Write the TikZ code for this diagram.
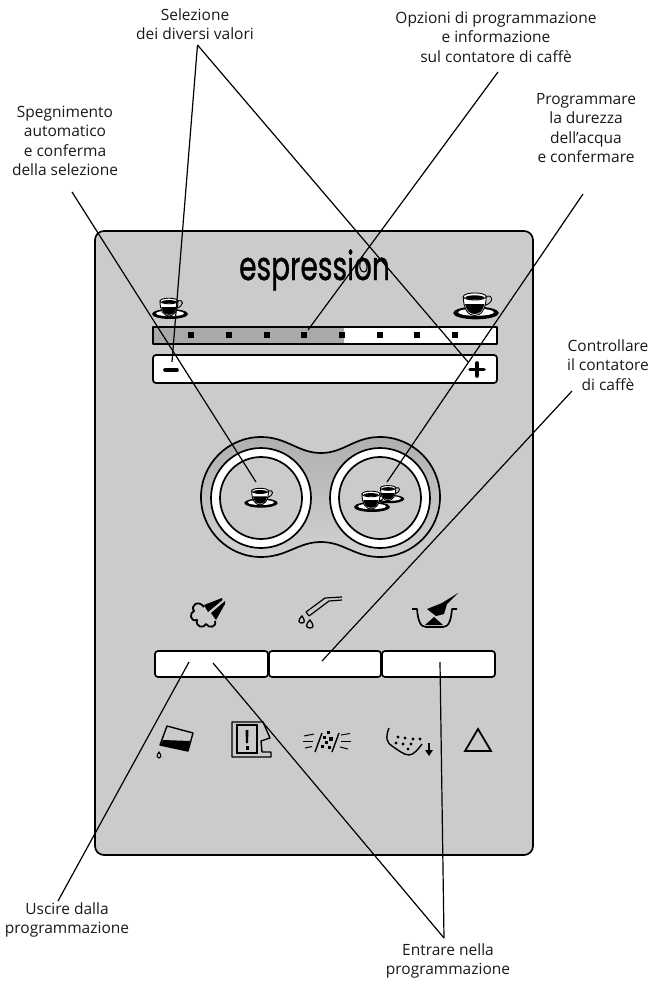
\documentclass[tikz,border=0pt]{standalone}
\usepackage{fontspec}
\usepackage{graphicx}
\setmainfont{Open Sans}
\newfontfamily\logofont[FakeBold=1.2]{Poppins}
\definecolor{panelgray}{HTML}{CBCBCB}
\definecolor{bargray}{HTML}{A9A9A9}
\definecolor{knobdark}{HTML}{AFAFAF}
\definecolor{knoblight}{HTML}{D2D2D2}
\tikzset{
  lbl/.style={font=\fontsize{15.5}{19.5}\selectfont,align=center,inner sep=0pt,text=black!90},
  leader/.style={line width=1.2pt},
  outline/.style={line width=1.7pt,line join=round},
  tick/.style={fill=black,minimum size=5.5pt,inner sep=0pt},
  cup/.pic={
    \fill[black] (0,0) ellipse [x radius=18,y radius=5];
    \fill[white] (0,-0.6) ellipse [x radius=14,y radius=2.8];
    \draw[line width=0.9pt] (8,-13) .. controls (14,-15) and (14,-8) .. (7,-6);
    \draw[fill=white,line width=0.9pt] (-10,-13) .. controls (-10,-3) and (-6,2) .. (-1,2) .. controls (4,2) and (8,-3) .. (8,-13) -- cycle;
    \fill[black] (-8.6,-7) -- (6.6,-7) .. controls (5.5,-2) and (3,0.8) .. (-1,0.8) .. controls (-5,0.8) and (-7.6,-2) .. (-8.6,-7) -- cycle;
    \draw[fill=white,line width=0.9pt] (-1,-13) ellipse [x radius=9,y radius=2.8];
    \fill[black] (-1,-12.2) ellipse [x radius=7.4,y radius=1.7];
  }
}
\begin{document}
\begin{tikzpicture}[x=1pt,y=-1pt]
\useasboundingbox (0,0) rectangle (651,984);

% panel
\draw[outline,fill=panelgray,rounded corners=9pt] (95,231) rectangle (533,855);

% logo
\node[inner sep=0pt,anchor=base] (logo) at (314.5,280) {\scalebox{0.70}[1]{\logofont\fontsize{40}{40}\selectfont espression}};
\fill[panelgray] (362,263) .. controls (359,268) and (361,272) .. (364,272) .. controls (367,272) and (368,267) .. (362,263) -- cycle;
\draw[line width=1.1pt] (362,257) .. controls (358,266) and (360,272) .. (364,272) .. controls (368,272) and (369,265) .. (362,257) -- cycle;

% cups above the bar
\pic[scale=1] at (170,314) {cup};
\pic[scale=1.27] at (476,313) {cup};

% bar
\fill[white] (153,327) rectangle (497,344);
\fill[bargray] (153,327) rectangle (344,344);
\draw[outline] (153,327) rectangle (497,344);
\node[tick] (tick1) at (191,335) {};
\node[tick] (tick2) at (229,335) {};
\node[tick] (tick3) at (267,335) {};
\node[tick] (tick4) at (304,335) {};
\node[tick] (tick5) at (342,335) {};
\node[tick] (tick6) at (380,335) {};
\node[tick] (tick7) at (417,335) {};
\node[tick] (tick8) at (455,335) {};

% minus and plus
\draw[outline,fill=white,rounded corners=3pt] (153,355) rectangle (497,383);
\draw[line width=3.6pt,line cap=round] (165,370) -- (177,370);
\draw[line width=3.6pt,line cap=round] (470,369.5) -- (484,369.5);
\draw[line width=3.6pt,line cap=round] (477,363) -- (477,376);

% knob
\draw[outline,top color=knobdark,bottom color=knoblight] (261,437) .. controls (287,437) and (298,453) .. (321,453) .. controls (344,453) and (354,437) .. (380,437)
  .. controls (413,437) and (440,464) .. (440,497) .. controls (440,530) and (413,557) .. (380,557)
  .. controls (354,557) and (344,542) .. (321,542) .. controls (298,542) and (287,557) .. (261,557)
  .. controls (228,557) and (201,530) .. (201,497) .. controls (201,464) and (228,437) .. (261,437) -- cycle;
\draw[outline,fill=white] (261,498) circle [radius=50];
\draw[outline,fill=panelgray] (261,498) circle [radius=41];
\draw[outline,fill=white] (380,498) circle [radius=50];
\draw[outline,fill=panelgray] (380,498) circle [radius=41];
\pic[scale=0.93] at (261,503) {cup};
\pic[scale=0.85] at (389,499) {cup};
\pic[scale=1] at (372,507) {cup};

% steam
\draw[line width=1.8pt,line join=round] (204,607) .. controls (198,599) and (190,606) .. (194,611) .. controls (189,613) and (190,622) .. (197,620) .. controls (195,627) and (204,629) .. (206,624) .. controls (209,629) and (217,627) .. (215,621);
\fill[black] (204,605) -- (222,598) -- (222.5,600) -- (208,612) -- cycle;
\fill[black] (211,613) -- (225,601) -- (225,604) -- (216,620) -- cycle;

% milk wand
\draw[line width=1.2pt,line join=round] (306,612) -- (325,598) -- (342,597);
\draw[line width=1.2pt,line join=round] (309,616) -- (329,601) -- (342,600);
\draw[line width=1.2pt] (306,612) -- (309,616);
\draw[line width=1.3pt] (302,616) .. controls (297,621) and (299,623) .. (302,623) .. controls (305,623) and (305,620) .. (302,616) -- cycle;
\draw[line width=1.3pt] (310,620) .. controls (305,625) and (306,628) .. (310,628) .. controls (314,628) and (314,625) .. (310,620) -- cycle;

% bowl and scoop
\draw[line width=1.7pt,line join=round] (412,609) -- (417,609) .. controls (418,620) and (420,627) .. (426,627) -- (443,627) .. controls (449,627) and (451,620) .. (452,609) -- (457,609);
\fill[black] (427,609) -- (442,603) -- (458,593) -- (447,604) -- (444,614) -- (436,616) -- cycle;
\fill[black] (434,617) -- (443,625) -- (425,625) -- cycle;

% buttons
\draw[outline,fill=white,rounded corners=3pt] (155,651) rectangle (268,677);
\draw[outline,fill=white,rounded corners=3pt] (269,651) rectangle (381,677);
\draw[outline,fill=white,rounded corners=3pt] (382,651) rectangle (495,677);

% glass
\draw[line width=1.4pt,line join=round] (167,726) -- (193,733) -- (188,751) -- (160,745) -- cycle;
\fill[black] (163,740) -- (190,741) -- (188,751) -- (160,745) -- cycle;
\draw[line width=1.1pt] (159,752) .. controls (156,756) and (157,758) .. (159,758) .. controls (161,758) and (162,756) .. (159,752) -- cycle;

% machine
\draw[line width=1.4pt,line join=round] (232,722) -- (263,722) -- (270,738) -- (261,741) -- (262,752) -- (271,752) -- (271,757) -- (232,757) -- cycle;
\draw[line width=1.3pt] (237,725) rectangle (257,753);
\fill[black] (245.5,730) -- (248.5,730) -- (248,743) -- (246,743) -- cycle;
\fill[black] (245.5,746) rectangle (248.5,749.5);

% beans
\draw[line width=1.4pt] (315,752) -- (322,733);
\draw[line width=1.4pt] (332,752) -- (339,733);
\fill[black] (327,731) rectangle (330,734);
\fill[black] (323,736) rectangle (326,739);
\fill[black] (329,737) rectangle (333,741);
\fill[black] (325,741) rectangle (328,744);
\fill[black] (321,745) rectangle (324,748);
\fill[black] (328,746) rectangle (331,749);
\draw[line width=1pt] (304,736) -- (314,734);
\draw[line width=1pt] (303,741.5) -- (313,741.5);
\draw[line width=1pt] (305,748) -- (312,746.5);
\draw[line width=1pt] (341,735) -- (350,733.5);
\draw[line width=1pt] (341,741.5) -- (351,741.5);
\draw[line width=1pt] (340,747) -- (348,749);

% tray
\draw[line width=1.4pt] (389,728) .. controls (385,738) and (387,743) .. (392,746) .. controls (398,750) and (404,755) .. (409,755) .. controls (414,755) and (419,748) .. (422,744);
\fill[black] (398,737) circle [radius=1.6];
\fill[black] (405,738) circle [radius=1.6];
\fill[black] (413,739) circle [radius=1.6];
\fill[black] (420,739) circle [radius=1.6];
\fill[black] (396,743) circle [radius=1.6];
\fill[black] (403,744) circle [radius=1.6];
\fill[black] (411,744) circle [radius=1.6];
\fill[black] (408,749) circle [radius=1.6];
\draw[line width=1.5pt] (429,743) -- (429,751);
\fill[black] (425,750) -- (433,750) -- (429,756) -- cycle;

% warning
\draw[line width=1.8pt,line join=miter] (478,729) -- (491,751) -- (465,751) -- cycle;

% labels
\node[lbl] (selezione) at (195,24) {Selezione\\dei diversi valori};
\node[lbl] (spegnimento) at (65,141) {Spegnimento\\automatico\\e conferma\\della selezione};
\node[lbl] (opzioni) at (496,37) {Opzioni di programmazione\\e informazione\\sul contatore di caffè};
\node[lbl] (programmare) at (586,128) {Programmare\\la durezza\\dell’acqua\\e confermare};
\node[lbl] (controllare) at (608,365) {Controllare\\il contatore\\di caffè};
\node[lbl] (uscire) at (67,920) {Uscire dalla\\programmazione};
\node[lbl] (entrare) at (448,961) {Entrare nella\\programmazione};

% leader ends
\coordinate (selapex) at (197.5,45);
\coordinate (minusend) at (172,362);
\coordinate (plusend) at (468,362);
\coordinate (opzstart) at (498,72);
\coordinate (opzend) at (308,330);
\coordinate (prostart) at (583,194);
\coordinate (proend) at (387,482);
\coordinate (spestart) at (72,192);
\coordinate (speend) at (256,482);
\coordinate (constart) at (572,391);
\coordinate (conend) at (322,661);
\coordinate (uscstart) at (58,901);
\coordinate (uscend) at (189,662);
\coordinate (entapex) at (444,938);
\coordinate (entleft) at (213,663);
\coordinate (entright) at (440,662);

\draw[leader] (selapex) -- (minusend);
\draw[leader] (selapex) -- (plusend);
\draw[leader] (opzstart) -- (opzend);
\draw[leader] (prostart) -- (proend);
\draw[leader] (spestart) -- (speend);
\draw[leader] (constart) -- (conend);
\draw[leader] (uscstart) -- (uscend);
\draw[leader] (entapex) -- (entleft);
\draw[leader] (entapex) -- (entright);
\end{tikzpicture}
\end{document}
